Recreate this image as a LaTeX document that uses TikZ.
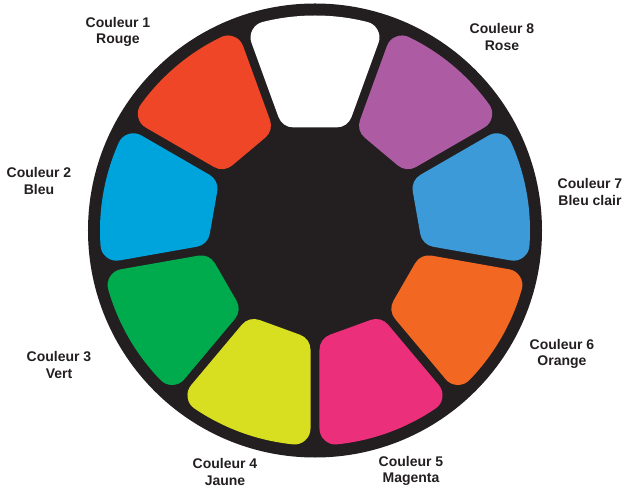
\documentclass[tikz,border=0pt]{standalone}
\usepackage{fontspec}
\setmainfont{Liberation Sans}
\definecolor{wheelblack}{HTML}{231F20}
\definecolor{crouge}{HTML}{EF4627}
\definecolor{cbleu}{HTML}{00A4DD}
\definecolor{cvert}{HTML}{00AB4E}
\definecolor{cjaune}{HTML}{D8DF20}
\definecolor{cmagenta}{HTML}{EC2F7B}
\definecolor{corange}{HTML}{F26722}
\definecolor{cbleuclair}{HTML}{3B9AD7}
\definecolor{crose}{HTML}{AD5CA4}
\begin{document}
\begin{tikzpicture}[x=1bp,y=1bp,
  lbl/.style={font=\bfseries\fontsize{14bp}{16.5bp}\selectfont, text=wheelblack, align=center, inner sep=0pt},
  slot/.style={fill=#1, draw=#1, line width=32bp, line join=round}]
\useasboundingbox (-315,-261.5) rectangle (311,230.5);
\fill[wheelblack] (0,0) circle[radius=227bp];
\foreach \ang/\col in {90/white, 50/crose, 10/cbleuclair, -30/corange, -70/cmagenta, -110/cjaune, -150/cvert, 170/cbleu, 130/crouge} {
  \filldraw[slot=\col]
   ({\ang+20-asin(20.5/121)}:121) -- ({\ang+20-asin(20.5/199)}:199)
   arc[start angle={\ang+20-asin(20.5/199)}, end angle={\ang-20+asin(20.5/199)}, radius=199bp]
   -- ({\ang-20+asin(20.5/121)}:121) -- cycle;
}
\node[lbl] (l1) at (-197,198.5) {Couleur 1\\Rouge};
\node[lbl] (l2) at (-276,49.5) {Couleur 2\\Bleu};
\node[lbl] (l3) at (-256,-134.5) {Couleur 3\\Vert};
\node[lbl] (l4) at (-90,-241.5) {Couleur 4\\Jaune};
\node[lbl] (l5) at (96,-240.5) {Couleur 5\\Magenta};
\node[lbl] (l6) at (247,-123.5) {Couleur 6\\Orange};
\node[lbl] (l7) at (275,38.5) {Couleur 7\\Bleu clair};
\node[lbl] (l8) at (187,193.5) {Couleur 8\\Rose};
\end{tikzpicture}
\end{document}
